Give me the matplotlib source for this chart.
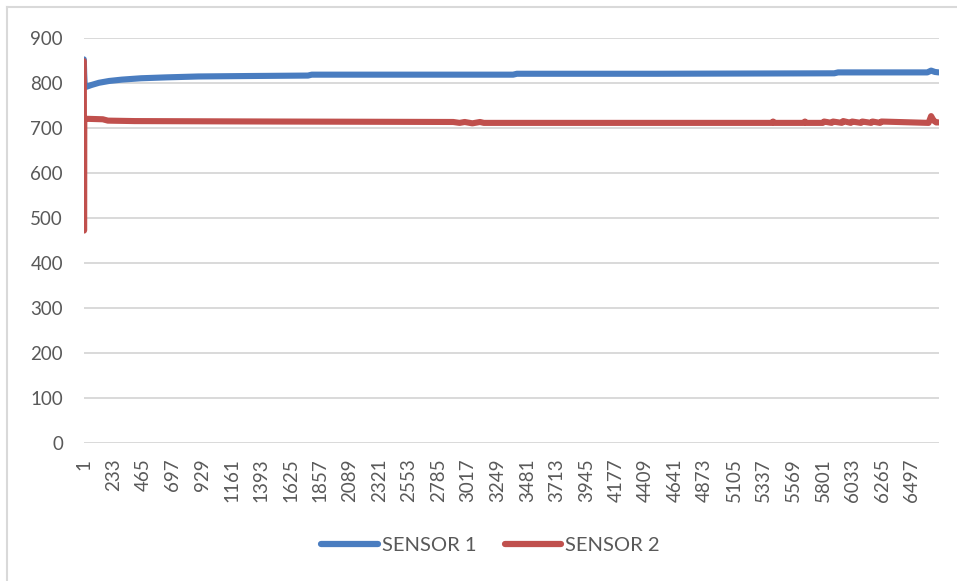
import numpy as np
import matplotlib.pyplot as plt
from matplotlib.lines import Line2D

# sample count on the category axis
n_samples = 6710

# sensor readings at the sample numbers where the trace changes
s1_idx = [1, 4, 8, 20, 60, 120, 200, 300, 450, 650, 900, 1300, 1760, 1790,
          2600, 3370, 3400, 4500, 5890, 5920, 6200, 6620, 6650, 6680, 6710]
s1_val = [852, 820, 795, 791, 795, 800, 804, 807, 810, 812, 814, 815, 816, 818,
          818, 818, 820, 820, 821, 823, 823, 823, 827, 824, 823]

s2_idx = [1, 2, 3, 5, 8, 30, 150, 190, 400, 1500, 2900, 2950, 2990, 3050, 3110,
          3140, 4000, 5400, 5410, 5420, 5650, 5660, 5670, 5800, 5810, 5870, 5880,
          5950, 5960, 6020, 6030, 6100, 6110, 6180, 6190, 6250, 6260, 6630, 6650,
          6670, 6690, 6710]
s2_val = [848, 700, 472, 722, 719, 720, 719, 716, 715, 714, 713, 711, 713, 710, 713,
          711, 711, 711, 714, 711, 711, 714, 711, 711, 714, 711, 714, 711, 715, 711,
          714, 711, 714, 711, 714, 711, 714, 711, 726, 716, 712, 712]

series_names = ["SENSOR 1", "SENSOR 2"]
series_colors = ["#4A7DC0", "#C0504D"]

tick_pos = list(range(1, n_samples + 1, 232))
y_ticks = list(range(0, 901, 100))

plt.rcParams['font.family'] = ['Lato', 'DejaVu Sans']
text_color = "#595959"

fig = plt.figure(figsize=(9.57, 5.81), dpi=100)
ax = fig.add_axes([0.0875, 0.237, 0.981 - 0.0875, 0.9351 - 0.237])

ax.plot(s1_idx, s1_val, color=series_colors[0], lw=4.4, label=series_names[0],
        solid_joinstyle='round', solid_capstyle='round', zorder=3)
ax.plot(s2_idx, s2_val, color=series_colors[1], lw=4.4, label=series_names[1],
        solid_joinstyle='round', solid_capstyle='round', zorder=3)

ax.set_xlim(0.5, n_samples + 0.5)
ax.set_ylim(0, 900)
ax.set_yticks(y_ticks)
ax.set_xticks(tick_pos)
ax.set_xticklabels([str(t) for t in tick_pos], rotation=90)
ax.grid(axis='y', color="#D9D9D9", lw=1.4, zorder=0)
ax.tick_params(axis='both', length=0, labelsize=13.5, labelcolor=text_color)
ax.tick_params(axis='y', pad=15)
ax.tick_params(axis='x', pad=11)
for sp in ax.spines.values():
    sp.set_visible(False)

leg = ax.legend(loc='center', bbox_to_anchor=(490.5 / 957, (581 - 545) / 581),
                bbox_transform=fig.transFigure, ncol=2, frameon=False,
                fontsize=14.5, handlelength=2.8, handletextpad=0.2,
                columnspacing=1.4, labelcolor=text_color)
for h in leg.get_lines():
    h.set_linewidth(4.5)
    h.set_solid_capstyle('round')

# chart frame (left and top edges)
fig.add_artist(Line2D([7 / 957, 7 / 957], [0, 1 - 7 / 581], color="#D9D9D9", lw=1.5,
                      transform=fig.transFigure))
fig.add_artist(Line2D([7 / 957, 1], [1 - 7 / 581, 1 - 7 / 581], color="#D9D9D9", lw=1.5,
                      transform=fig.transFigure))

fig.savefig("out.png", dpi=100)
